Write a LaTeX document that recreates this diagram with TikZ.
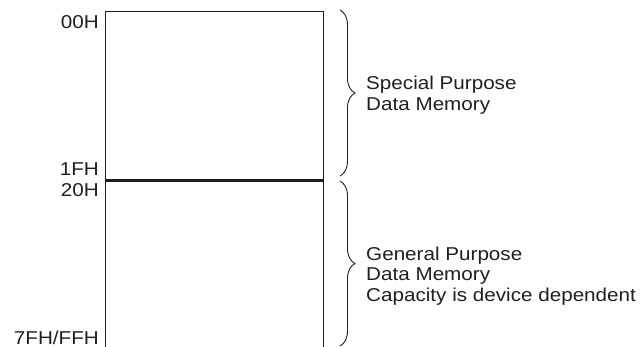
\documentclass[tikz,border=0pt]{standalone}
\usepackage{fontspec}
\setmainfont{Liberation Sans}
\usetikzlibrary{positioning,decorations.pathreplacing}
\begin{document}
\begin{tikzpicture} [
   x=1pt, y=-1pt, font=\fontsize{18.6}{20.4}\selectfont, color={black!88},
   region/.style={draw, line width=1.3pt, minimum width=218pt, inner sep=0pt},
   addr/.style={anchor=base east, inner sep=0pt, xscale=1.11, transform shape},
   memtext/.style={anchor=base west, align=left, inner sep=0pt, xscale=1.11, transform shape},
   curly/.style={decorate, decoration={brace, amplitude=15pt}, line width=0.9pt}
]
   \useasboundingbox (0,0) rectangle (644,346);
   \node (spec) [region, minimum height=168pt, anchor=north west] at (105,11) {};
   \node (gen) [region, minimum height=168pt, anchor=north west] at (spec.south west) {};
   % addresses
   \node (a00) [addr] at (99,28) {00H};
   \node (a1F) [addr] at (99,175) {1FH};
   \node (a20) [addr] at (99,196) {20H};
   \node (a7F) [addr] at (99,344) {7FH/FFH};
   % braces
   \coordinate (s1) at (340,10);
   \coordinate (s2) at (340,176);
   \coordinate (g1) at (340,181);
   \coordinate (g2) at (340,346);
   \draw [curly] (s1) -- (s2);
   \draw [curly] (g1) -- (g2);
   \node (stext) [memtext] at (366,110) {Special Purpose\\Data Memory};
   \node (gtext) [memtext] at (366,301) {General Purpose\\Data Memory\\Capacity is device dependent};
\end{tikzpicture}
\end{document}
